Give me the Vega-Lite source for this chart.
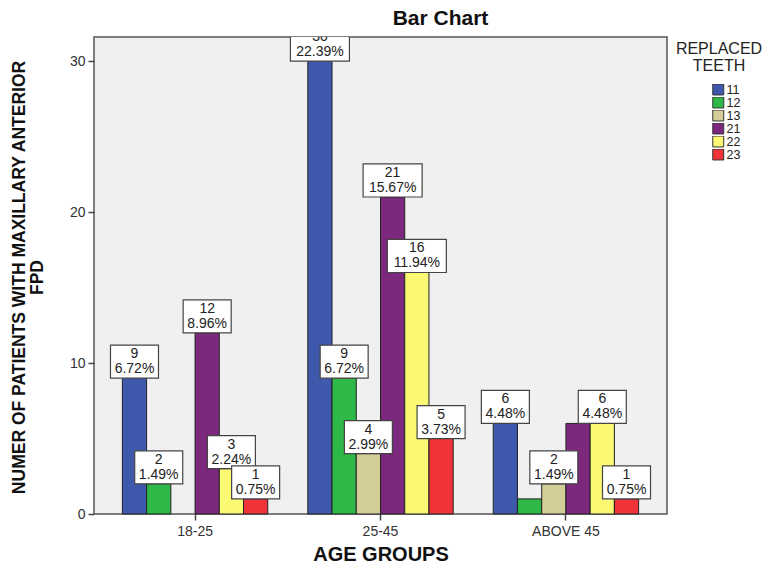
{
  "$schema": "https://vega.github.io/schema/vega-lite/v6.json",
  "width": 573,
  "height": 477,
  "autosize": {"type": "none"},
  "padding": {"left": 94, "top": 37, "right": 111, "bottom": 51},
  "background": "white",
  "title": {
    "text": "Bar Chart",
    "font": "Liberation Sans",
    "fontSize": 21,
    "fontWeight": "bold",
    "color": "#111111",
    "anchor": "middle",
    "dx": 60,
    "offset": 8
  },
  "datasets": {
    "teeth": [
      {"group": "18-25", "teeth": "11", "count": 9, "pct": "6.72%"},
      {"group": "18-25", "teeth": "12", "count": 2, "pct": "1.49%"},
      {"group": "18-25", "teeth": "21", "count": 12, "pct": "8.96%"},
      {"group": "18-25", "teeth": "22", "count": 3, "pct": "2.24%"},
      {"group": "18-25", "teeth": "23", "count": 1, "pct": "0.75%"},
      {"group": "25-45", "teeth": "11", "count": 30, "pct": "22.39%"},
      {"group": "25-45", "teeth": "12", "count": 9, "pct": "6.72%"},
      {"group": "25-45", "teeth": "13", "count": 4, "pct": "2.99%"},
      {"group": "25-45", "teeth": "21", "count": 21, "pct": "15.67%"},
      {"group": "25-45", "teeth": "22", "count": 16, "pct": "11.94%"},
      {"group": "25-45", "teeth": "23", "count": 5, "pct": "3.73%"},
      {"group": "ABOVE 45", "teeth": "11", "count": 6, "pct": "4.48%"},
      {"group": "ABOVE 45", "teeth": "12", "count": 1, "pct": "0.75%"},
      {"group": "ABOVE 45", "teeth": "13", "count": 2, "pct": "1.49%"},
      {"group": "ABOVE 45", "teeth": "21", "count": 6, "pct": "4.48%"},
      {"group": "ABOVE 45", "teeth": "22", "count": 6, "pct": "4.48%"},
      {"group": "ABOVE 45", "teeth": "23", "count": 1, "pct": "0.75%"}
    ]
  },
  "data": {"name": "teeth"},
  "encoding": {
    "x": {
      "field": "group",
      "type": "nominal",
      "sort": ["18-25", "25-45", "ABOVE 45"],
      "scale": {"paddingInner": 0.216, "paddingOuter": 0.153},
      "axis": {
        "title": "AGE GROUPS",
        "titleFont": "Liberation Sans",
        "titleFontSize": 20,
        "titleFontWeight": "bold",
        "titleColor": "#111111",
        "titleBaseline": "top",
        "titleY": 30,
        "labelAngle": 0,
        "labelFont": "Liberation Sans",
        "labelFontSize": 14,
        "labelColor": "#333333",
        "labelPadding": 4,
        "tickSize": 6,
        "tickColor": "#444444",
        "tickWidth": 1.5,
        "domain": false
      }
    },
    "xOffset": {
      "field": "teeth",
      "type": "nominal",
      "scale": {"domain": ["11", "12", "13", "21", "22", "23"], "paddingInner": 0, "paddingOuter": 0}
    },
    "y": {
      "field": "count",
      "type": "quantitative",
      "scale": {"domain": [0, 31.6], "nice": false, "zero": true},
      "axis": {
        "values": [0, 10, 20, 30],
        "grid": false,
        "domain": false,
        "title": ["NUMER OF PATIENTS WITH MAXILLARY ANTERIOR", "FPD"],
        "titleFont": "Liberation Sans",
        "titleFontSize": 17.5,
        "titleFontWeight": "bold",
        "titleColor": "#111111",
        "titleLineHeight": 18,
        "titleBaseline": "top",
        "titleAlign": "center",
        "titleX": -84,
        "titleY": 240,
        "labelFont": "Liberation Sans",
        "labelFontSize": 14,
        "labelColor": "#333333",
        "labelPadding": 3,
        "tickSize": 6,
        "tickColor": "#444444",
        "tickWidth": 1.5
      }
    }
  },
  "layer": [
    {
      "mark": {"type": "bar", "stroke": "#222222", "strokeWidth": 1, "opacity": 1},
      "encoding": {
        "color": {
          "field": "teeth",
          "type": "nominal",
          "scale": {
            "domain": ["11", "12", "13", "21", "22", "23"],
            "range": ["#3E58AC", "#2EB848", "#D3CE97", "#7C287D", "#FBF873", "#EF3338"]
          },
          "legend": {
            "title": ["REPLACED", "TEETH"],
            "orient": "none",
            "legendX": 582,
            "legendY": 4,
            "titleFont": "Liberation Sans",
            "titleFontSize": 16,
            "titleFontWeight": "normal",
            "titleColor": "#222222",
            "titleLineHeight": 17,
            "titleAlign": "center",
            "titleAnchor": "middle",
            "titlePadding": 10,
            "symbolType": "square",
            "symbolSize": 120,
            "symbolStrokeColor": "#333333",
            "symbolStrokeWidth": 1,
            "symbolOpacity": 1,
            "symbolOffset": 14,
            "labelFont": "Liberation Sans",
            "labelFontSize": 12.5,
            "labelColor": "#222222",
            "labelOffset": 2,
            "clipHeight": 11,
            "rowPadding": 0
          }
        }
      }
    },
    {
      "transform": [
        {"filter": "!(datum.group === 'ABOVE 45' && (datum.teeth === '12' || datum.teeth === '21'))"},
        {"filter": "length(datum.pct) <= 5"}
      ],
      "mark": {
        "type": "point",
        "shape": "M-1,-1.375H1V0H-1Z",
        "size": 2304,
        "filled": true,
        "fill": "white",
        "stroke": "#444444",
        "strokeWidth": 1.2,
        "opacity": 1,
        "clip": true
      }
    },
    {
      "transform": [
        {"filter": "length(datum.pct) > 5"}
      ],
      "mark": {
        "type": "point",
        "shape": "M-1,-1.12H1V0H-1Z",
        "size": 3481,
        "filled": true,
        "fill": "white",
        "stroke": "#444444",
        "strokeWidth": 1.2,
        "opacity": 1,
        "clip": true
      }
    },
    {
      "transform": [
        {"filter": "!(datum.group === 'ABOVE 45' && (datum.teeth === '12' || datum.teeth === '21'))"}
      ],
      "mark": {
        "type": "text",
        "font": "Liberation Sans",
        "fontSize": 14,
        "color": "#222222",
        "baseline": "middle",
        "dy": -24,
        "clip": true
      },
      "encoding": {"text": {"field": "count", "type": "quantitative"}}
    },
    {
      "transform": [
        {"filter": "!(datum.group === 'ABOVE 45' && (datum.teeth === '12' || datum.teeth === '21'))"}
      ],
      "mark": {
        "type": "text",
        "font": "Liberation Sans",
        "fontSize": 14,
        "color": "#222222",
        "baseline": "middle",
        "dy": -9,
        "clip": true
      },
      "encoding": {"text": {"field": "pct", "type": "nominal"}}
    }
  ],
  "config": {
    "view": {"fill": "#F0F0F0", "stroke": "#555555", "strokeWidth": 1.5}
  }
}
